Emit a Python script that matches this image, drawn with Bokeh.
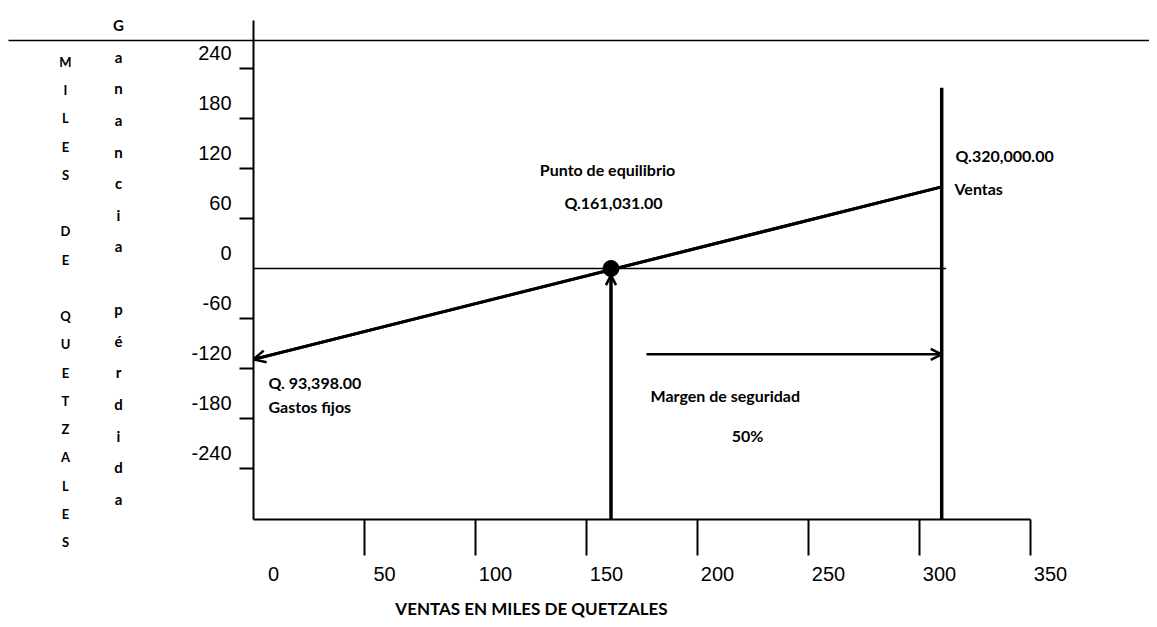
from bokeh.plotting import figure
from bokeh.models import LinearAxis, FixedTicker, Range1d, Arrow, OpenHead, ColumnDataSource, Label
from bokeh.core.properties import value
from bokeh.embed import file_html
from bokeh.resources import INLINE

# ---------------- data ----------------
x_tick_vals = [50, 100, 150, 200, 250, 300, 350]
x_label_vals = [0, 50, 100, 150, 200, 250, 300, 350]
x_labels = ["0", "50", "100", "150", "200", "250", "300", "350"]

y_tick_vals = [-240, -180, -120, -60, 60, 120, 180, 240]
y_label_vals = [240, 180, 120, 60, 0, -60, -120, -180, -240]
y_labels = ["240", "180", "120", "60", "0", "-60", "-120", "-180", "-240"]

profit_x = [0, 310]          # ventas (miles de Q)
profit_y = [-109, 98]        # ganancia / pérdida (miles de Q)
breakeven_x = [161.031]
breakeven_y = [0]
sales_x = 310
sales_top = 217
margin_start = 177
margin_y = -103
zero_end = 312
axis_bottom = -301.2
axis_top = 297.6
x_axis_end = 350
top_rule_y = 273.6

# ------------- pixel <-> data helpers (layout only) -------------
W, H = 1149, 619
X0, XS = 253.0, 2.22
Y0, YS = 268.0, 50.0 / 60.0


def ux(px):
    return (px - X0) / XS


def vy(py):
    return (Y0 - py) / YS


p = figure(width=W, height=H,
           x_range=Range1d(ux(0), ux(W)), y_range=Range1d(vy(H), vy(0)),
           x_axis_type=None, y_axis_type=None,
           toolbar_location=None, output_backend="svg", min_border=0)
p.outline_line_color = None
p.background_fill_color = "white"

yaxis = LinearAxis(fixed_location=0, bounds=(axis_bottom, axis_top),
                   ticker=FixedTicker(ticks=y_tick_vals),
                   major_tick_out=14, major_tick_in=0,
                   minor_tick_out=0, minor_tick_in=0,
                   axis_line_width=2, major_tick_line_width=2,
                   major_label_overrides={t: "" for t in y_tick_vals})
p.add_layout(yaxis, "left")

xaxis = LinearAxis(fixed_location=axis_bottom, bounds=(0, x_axis_end),
                   ticker=FixedTicker(ticks=x_tick_vals),
                   major_tick_out=36, major_tick_in=0,
                   minor_tick_out=0, minor_tick_in=0,
                   axis_line_width=2, major_tick_line_width=2,
                   major_label_overrides={t: "" for t in x_tick_vals})
p.add_layout(xaxis, "below")

NUMFONT = "Liberation Sans"

# tick labels
ysrc = ColumnDataSource(dict(x=[0] * len(y_label_vals), y=y_label_vals, t=y_labels))
p.text(x="x", y="y", text="t", source=ysrc, x_offset=-22, y_offset=-16,
       text_align="right", text_baseline="middle",
       text_font=value(NUMFONT), text_font_size="20px", text_color="black")
xsrc = ColumnDataSource(dict(x=x_label_vals, y=[axis_bottom] * len(x_label_vals), t=x_labels))
p.text(x="x", y="y", text="t", source=xsrc, x_offset=20, y_offset=54,
       text_align="center", text_baseline="middle",
       text_font=value(NUMFONT), text_font_size="20px", text_color="black")

# top rule
p.line(x=[ux(8), ux(W)], y=[top_rule_y, top_rule_y], line_color="black", line_width=1.5)

# zero line
p.line(x=[0, zero_end], y=[0, 0], line_color="black", line_width=1.5)

# profit line with arrow to the axis
p.line(x=profit_x, y=profit_y, line_color="black", line_width=3)
p.add_layout(Arrow(x_start=profit_x[1], y_start=profit_y[1], x_end=profit_x[0], y_end=profit_y[0],
                   end=OpenHead(size=12, line_width=2.5, line_color="black"),
                   line_width=3, line_color="black"))

# sales vertical line
p.line(x=[sales_x, sales_x], y=[axis_bottom, sales_top], line_color="black", line_width=3.5)

# break-even vertical arrow
p.add_layout(Arrow(x_start=breakeven_x[0], y_start=axis_bottom, x_end=breakeven_x[0], y_end=-8,
                   end=OpenHead(size=10, line_width=2.5, line_color="black"),
                   line_width=3.5, line_color="black"))

# break-even point
p.scatter(x=breakeven_x, y=breakeven_y, size=16, color="black")

# margin of safety arrow
p.add_layout(Arrow(x_start=margin_start, y_start=margin_y, x_end=sales_x, y_end=margin_y,
                   end=OpenHead(size=11, line_width=2.5, line_color="black"),
                   line_width=2.5, line_color="black"))

FONT = "Lato"


def lab(px, py, txt, align="left", size="16px", style="bold", font=FONT, **kw):
    p.add_layout(Label(x=ux(px), y=vy(py), text=txt, text_align=align, text_baseline="middle",
                       text_font=font, text_font_size=size, text_font_style=style,
                       text_color="black", **kw))


lab(607, 169, "Punto de equilibrio", align="center")
lab(613, 202, "Q.161,031.00", align="center")
lab(955, 155, "Q.320,000.00")
lab(954, 188, "Ventas")
lab(268, 382, "Q. 93,398.00")
lab(268, 406, "Gastos fijos")
lab(650, 395, "Margen de seguridad")
lab(747, 435, "50%", align="center")
lab(531, 608, "VENTAS EN MILES DE QUETZALES", align="center", size="17px")

miles = "\n".join(list("MILES") + [" "] + list("DE") + [" "] + list("QUETZALES"))
lab(65, 301.5, miles, align="center", size="13px", text_line_height=1.766)
gan = "\n".join(list("Ganancia") + [" "] + list("pérdida"))
lab(118, 261.5, gan, align="center", size="15px", text_line_height=1.753)

open("out.html", "w").write(file_html(p, INLINE))
